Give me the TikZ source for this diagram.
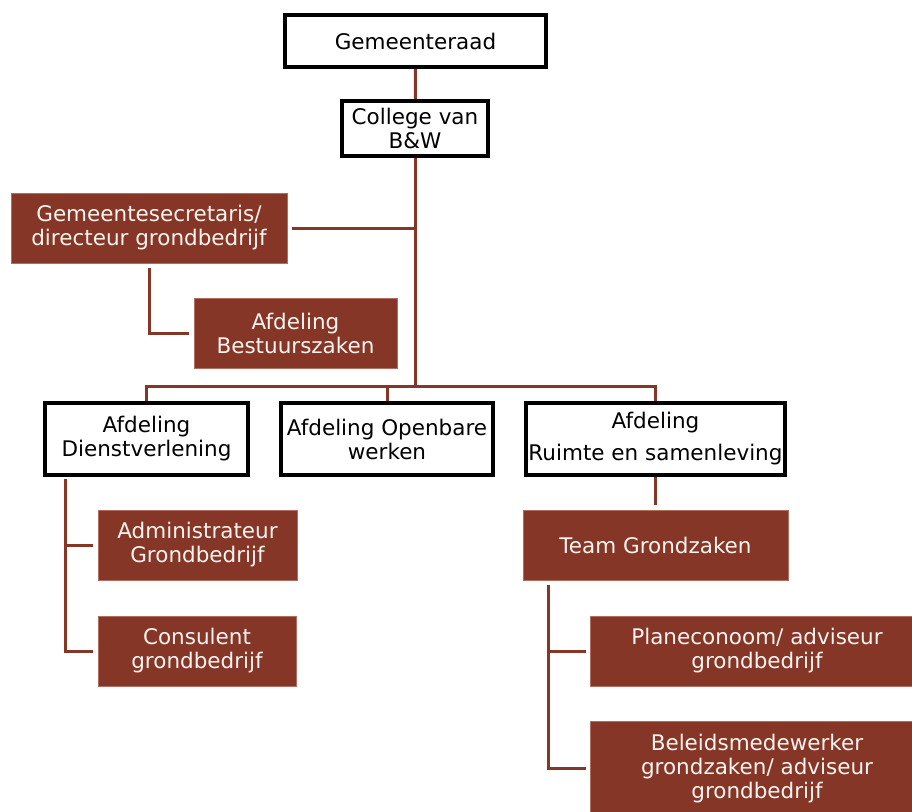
\documentclass[tikz,border=0pt]{standalone}
\usepackage{fontspec}
\setmainfont{DejaVu Sans}
\definecolor{brn}{RGB}{134,54,38}
\definecolor{brnedge}{RGB}{176,110,96}
\definecolor{offwhite}{RGB}{250,244,240}
\begin{document}
\begin{tikzpicture}[x=1pt,y=-1pt,
  every node/.style={font=\fontsize{21.5}{24}\selectfont, align=center, inner sep=0pt},
  wbox/.style={draw=black, line width=3.6pt, fill=white, text=black, rectangle},
  bbox/.style={draw=brnedge, line width=0.8pt, fill=brn, text=offwhite, rectangle},
  conn/.style={draw=brn, line width=3pt}]
\useasboundingbox (0,0) rectangle (912,811);
\fill[white] (0,0) rectangle (912,811);

\node[wbox, minimum width=261pt, minimum height=52pt] (ger) at (415.5,41) {Gemeenteraad};
\node[wbox, minimum width=146pt, minimum height=55pt] (col) at (415,128.5) {College van\\B\&W};
\node[bbox, minimum width=276pt, minimum height=70pt] (gs) at (149,228) {Gemeentesecretaris/\\directeur grondbedrijf};
\node[bbox, minimum width=203pt, minimum height=70pt] (bz) at (295.5,333) {Afdeling\\Bestuurszaken};
\node[wbox, minimum width=203pt, minimum height=72pt] (dv) at (146.5,439) {Afdeling\\Dienstverlening};
\node[wbox, minimum width=212pt, minimum height=72pt] (ow) at (387,439) {Afdeling Openbare\\werken};
\node[wbox, minimum width=259pt, minimum height=72pt] (rs) at (655.5,439) {Afdeling\\[8pt]Ruimte en samenleving};
\node[bbox, minimum width=265pt, minimum height=70pt] (tg) at (655.5,545) {Team Grondzaken};
\node[bbox, minimum width=199pt, minimum height=70pt] (ag) at (197.5,545) {Administrateur\\Grondbedrijf};
\node[bbox, minimum width=198pt, minimum height=70pt] (cg) at (197,651) {Consulent\\grondbedrijf};
\node[bbox, minimum width=334pt, minimum height=70pt] (pa) at (757,651) {Planeconoom/ adviseur\\grondbedrijf};
\node[bbox, minimum width=334pt, minimum height=95pt] (bm) at (757,768.5) {Beleidsmedewerker\\grondzaken/ adviseur\\grondbedrijf};

\coordinate (bus) at (415,386);
\coordinate (dvt) at (65,479);
\coordinate (tgt) at (548,585);
\coordinate (gst) at (149,268);

\draw[conn] (ger.south) -- (col.south);
\draw[conn] (col.south) -- (bus);
\draw[conn] ([xshift=5pt]gs.east) -- (gs.east -| bus);
\draw[conn] (gst) |- ([xshift=-5pt]bz.west);
\draw[conn] (dv.north) |- (bus) -| (rs.north);
\draw[conn] (ow.north) -- (ow.north |- bus);
\draw[conn] (rs.south) -- ([yshift=5pt]tg.north);
\draw[conn] (dvt) |- ([xshift=-5pt]cg.west);
\draw[conn] (dvt) |- ([xshift=-5pt]ag.west);
\draw[conn] (tgt) |- ([xshift=-4pt]bm.west);
\draw[conn] (tgt) |- ([xshift=-4pt]pa.west);

\node[wbox, minimum width=261pt, minimum height=52pt] at (415.5,41) {Gemeenteraad};
\node[wbox, minimum width=146pt, minimum height=55pt] at (415,128.5) {College van\\B\&W};
\end{tikzpicture}
\end{document}
